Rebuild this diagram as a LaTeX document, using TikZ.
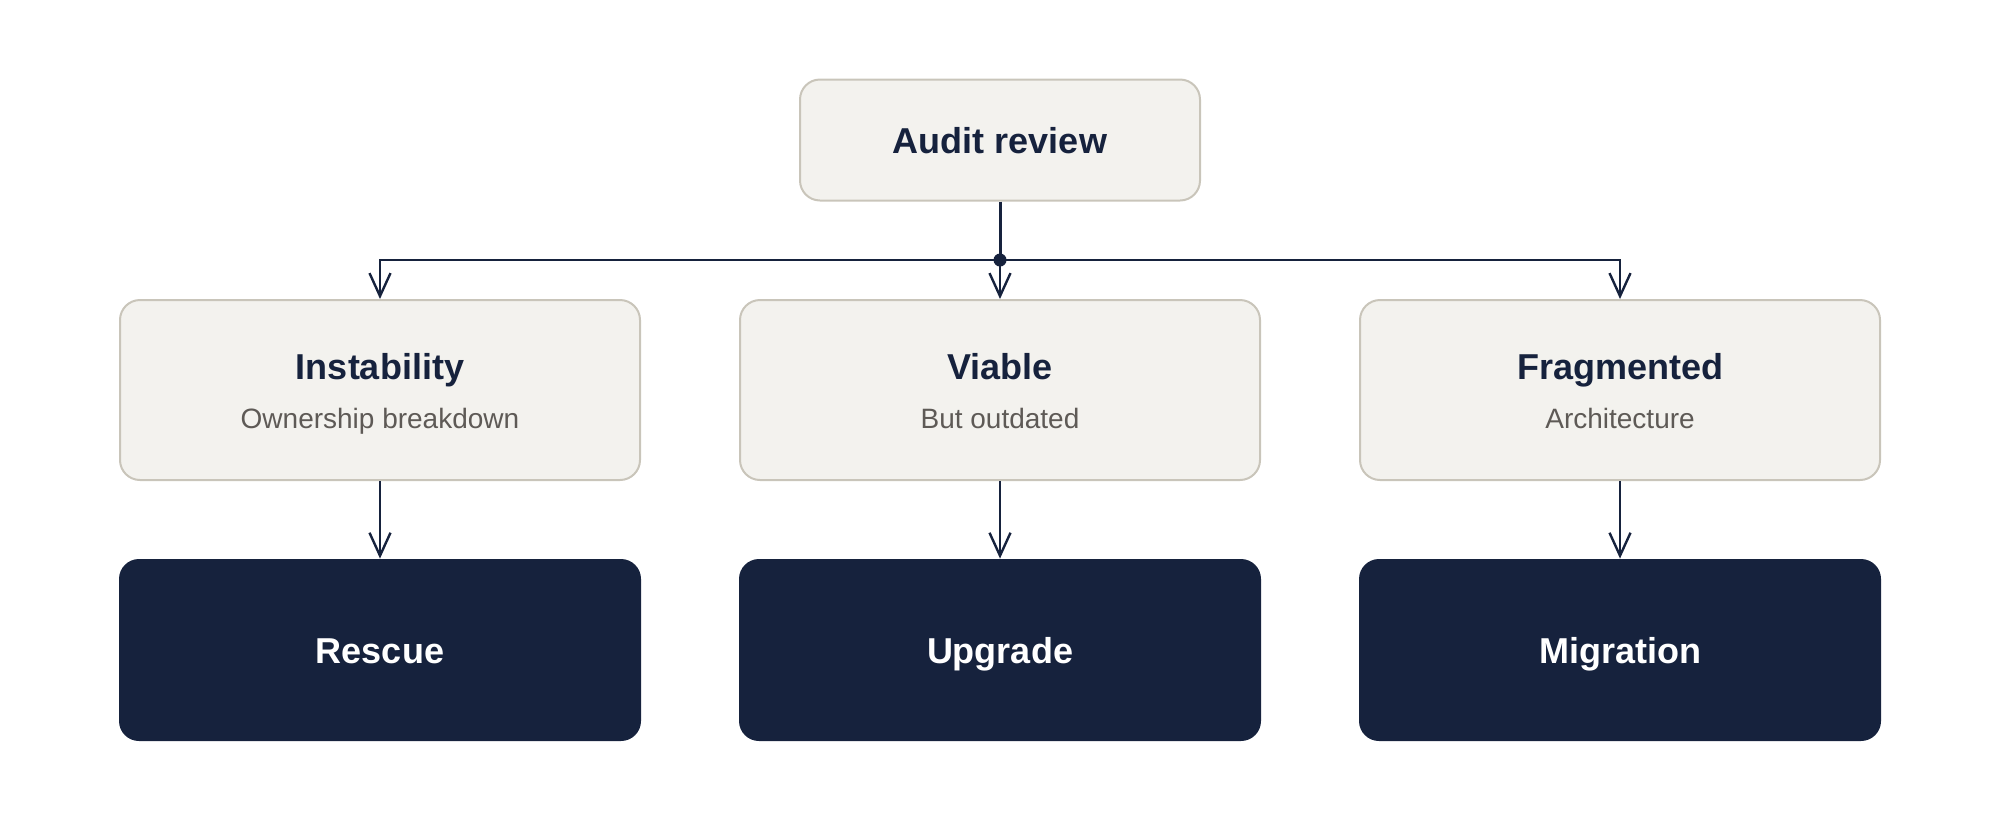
\documentclass[tikz,border=0pt]{standalone}
\usepackage{fontspec}
\setmainfont{Liberation Sans}
\usetikzlibrary{arrows.meta}
\definecolor{navy}{HTML}{16223D}
\definecolor{boxfill}{HTML}{F3F2EE}
\definecolor{boxline}{HTML}{C9C5BA}
\definecolor{subgray}{HTML}{5E5A56}
\tikzset{
  lightbox/.style={draw=boxline, fill=boxfill, line width=1pt, rounded corners=10pt, minimum width=260pt, minimum height=90pt, inner sep=0pt},
  topbox/.style={lightbox, minimum width=200pt, minimum height=60.5pt},
  darkbox/.style={fill=navy, rounded corners=10pt, minimum width=261pt, minimum height=91pt, inner sep=0pt},
  titletext/.style={font=\fontsize{18pt}{20pt}\selectfont\bfseries, text=navy, inner sep=0pt, anchor=base},
  subtext/.style={font=\fontsize{14pt}{16pt}\selectfont, text=subgray, inner sep=0pt, anchor=base},
  darktext/.style={font=\fontsize{18pt}{20pt}\selectfont\bfseries, text=white, inner sep=0pt, anchor=base},
  conn/.style={draw=navy, line width=1.2pt, -{Straight Barb[length=11.5pt,width=10.5pt,line width=1.2pt]}},
}
\begin{document}
\begin{tikzpicture}[x=0.5pt,y=-0.5pt]
\useasboundingbox (0,0) rectangle (2000,820);
\node[topbox] (audit) at (1000,140) {};
\node[titletext] (auditt) at (1000,153) {Audit review};

\node[lightbox] (inst) at (380,390) {};
\node[lightbox] (viab) at (1000,390) {};
\node[lightbox] (frag) at (1620,390) {};
\node[titletext] (instt) at (380,379) {Instability};
\node[subtext] (insts) at (380,428) {Ownership breakdown};
\node[titletext] (viabt) at (1000,379) {Viable};
\node[subtext] (viabs) at (1000,428) {But outdated};
\node[titletext] (fragt) at (1620,379) {Fragmented};
\node[subtext] (frags) at (1620,428) {Architecture};

\node[darkbox] (resc) at (380,650) {};
\node[darkbox] (upgr) at (1000,650) {};
\node[darkbox] (migr) at (1620,650) {};
\node[darktext] (rescT) at (380,663) {Rescue};
\node[darktext] (upgrT) at (1000,663) {Upgrade};
\node[darktext] (migrT) at (1620,663) {Migration};

\coordinate (j) at (1000,260);
\draw[navy, line width=1.5pt] (audit.south) -- (j);
\draw[conn, line width=1pt] (j) -| (inst.north);
\draw[conn, line width=1pt] (j) -| (frag.north);
\draw[conn] (j) -- (viab.north);
\fill[navy] (j) circle (6.5);

\draw[conn] (inst.south) -- (resc.north);
\draw[conn] (viab.south) -- (upgr.north);
\draw[conn] (frag.south) -- (migr.north);
\end{tikzpicture}
\end{document}
